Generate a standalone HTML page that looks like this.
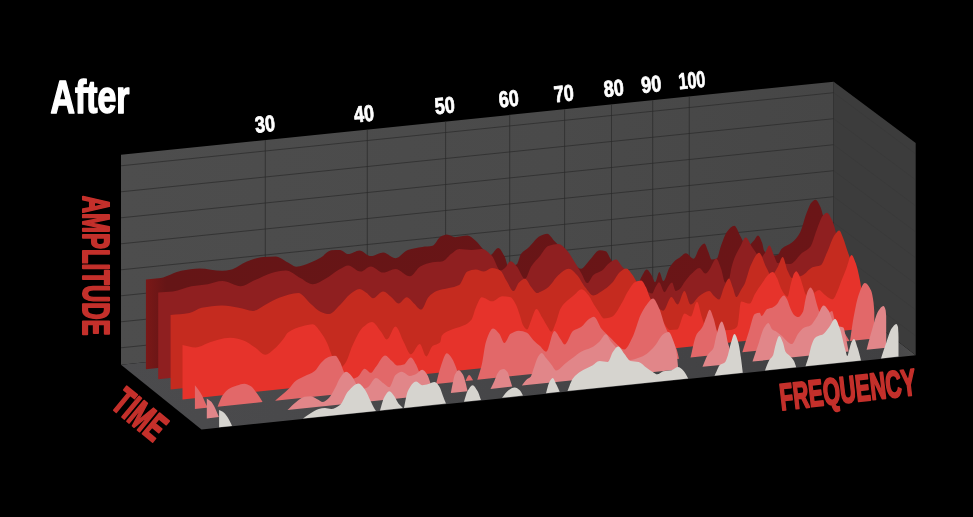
<!DOCTYPE html><html><head><meta charset="utf-8"><title>After</title><style>html,body{margin:0;padding:0;background:#000;overflow:hidden}svg{display:block}</style></head><body><svg width="973" height="517" viewBox="0 0 973 517"><defs><linearGradient id="g0" x1="0" x2="1" y1="0" y2="0"><stop offset="0" stop-color="#7a1817"/><stop offset="0.03" stop-color="#651516"/><stop offset="1" stop-color="#6b1517"/></linearGradient><linearGradient id="gw" gradientUnits="userSpaceOnUse" x1="121" y1="0" x2="834" y2="0"><stop offset="0" stop-color="#4d4d4d"/><stop offset="0.6" stop-color="#4a4a4a"/><stop offset="1" stop-color="#464646"/></linearGradient><linearGradient id="gf" gradientUnits="userSpaceOnUse" x1="121" y1="0" x2="915" y2="0"><stop offset="0" stop-color="#4b4b4d"/><stop offset="0.3" stop-color="#48484a"/><stop offset="0.972" stop-color="#404042"/><stop offset="0.98" stop-color="#49494a"/><stop offset="1" stop-color="#4d4d4d"/></linearGradient></defs><rect width="973" height="517" fill="#000"/><polygon points="121.0,154.8 833.7,81.7 833.7,291.6 121.0,364.7" fill="url(#gw)"/><polygon points="121.0,364.7 833.7,291.6 915.7,355.3 201.5,429.5" fill="url(#gf)"/><polygon points="833.7,81.7 915.7,142.9 915.7,355.3 833.7,291.6" fill="#3c3c3c"/><g stroke="#2a2a2a" stroke-width="0.7"><line x1="121.0" y1="165.8" x2="833.7" y2="92.7"/><line x1="121.0" y1="191.8" x2="833.7" y2="118.7"/><line x1="121.0" y1="217.8" x2="833.7" y2="144.7"/><line x1="121.0" y1="243.8" x2="833.7" y2="170.7"/><line x1="121.0" y1="269.8" x2="833.7" y2="196.7"/><line x1="121.0" y1="295.8" x2="833.7" y2="222.7"/><line x1="121.0" y1="321.8" x2="833.7" y2="248.7"/><line x1="121.0" y1="347.8" x2="833.7" y2="274.7"/><line x1="265.3" y1="140.0" x2="265.3" y2="349.9"/><line x1="367.3" y1="129.5" x2="367.3" y2="339.4"/><line x1="445.6" y1="121.5" x2="445.6" y2="331.4"/><line x1="509.7" y1="114.9" x2="509.7" y2="324.8"/><line x1="564.6" y1="109.3" x2="564.6" y2="319.2"/><line x1="611.5" y1="104.5" x2="611.5" y2="314.4"/><line x1="652.7" y1="100.3" x2="652.7" y2="310.2"/><line x1="689.3" y1="96.5" x2="689.3" y2="306.4"/></g><g stroke="#303030" stroke-width="1" opacity="0.2"><line x1="833.7" y1="92.7" x2="915.7" y2="153.9"/><line x1="833.7" y1="118.7" x2="915.7" y2="179.9"/><line x1="833.7" y1="144.7" x2="915.7" y2="205.9"/><line x1="833.7" y1="170.7" x2="915.7" y2="231.9"/><line x1="833.7" y1="196.7" x2="915.7" y2="257.9"/><line x1="833.7" y1="222.7" x2="915.7" y2="283.9"/><line x1="833.7" y1="248.7" x2="915.7" y2="309.9"/><line x1="833.7" y1="274.7" x2="915.7" y2="335.9"/></g><path d="M145.9 369.3L145.9 279.5C150.8 279.0 155.7 278.8 160.6 278.0C167.4 277.0 174.3 272.1 181.1 270.8C187.3 269.6 193.4 268.4 199.6 268.4C207.1 268.4 214.7 270.8 222.2 270.8C224.9 270.8 227.7 270.3 230.4 269.8C235.9 268.8 241.4 263.6 246.9 261.6C252.4 259.6 257.8 257.3 263.3 256.9C267.4 256.6 271.6 256.4 275.7 256.4C279.8 256.4 283.9 260.5 288.0 262.6C290.7 264.0 293.5 266.7 296.2 266.7C301.0 266.7 305.8 264.4 310.6 262.6C314.0 261.3 317.5 259.5 320.9 257.5C324.3 255.5 327.8 250.5 331.2 250.3C334.1 250.1 337.1 250.0 340.0 250.0C342.7 250.0 345.5 254.1 348.2 254.1C352.0 254.1 355.7 250.4 359.5 250.4C363.3 250.4 367.0 256.1 370.8 256.1C374.9 256.1 379.1 252.4 383.2 252.4C387.3 252.4 391.4 258.2 395.5 258.2C399.6 258.2 403.7 251.2 407.8 249.9C412.6 248.4 417.4 247.6 422.2 246.9C425.6 246.4 429.1 246.5 432.5 245.8C435.2 245.2 438.0 238.0 440.7 236.6C442.8 235.6 444.8 234.5 446.9 234.5C449.6 234.5 452.4 237.2 455.1 237.2C459.2 237.2 463.3 235.6 467.4 235.6C470.2 235.6 472.9 238.5 475.7 240.7C478.4 242.9 481.2 247.3 483.9 249.9C485.9 251.9 488.0 255.1 490.0 255.1C492.8 255.1 495.5 247.9 498.3 247.9C500.3 247.9 502.4 252.5 504.4 256.1C505.8 258.5 507.1 266.4 508.5 266.4C511.3 266.4 514.0 265.7 516.8 264.3C518.2 263.6 519.5 256.0 520.9 254.1C523.6 250.4 526.4 249.4 529.1 246.9C532.7 243.5 536.4 237.6 540.0 236.0C542.4 234.9 544.8 233.8 547.2 233.8C549.6 233.8 552.0 238.6 554.4 241.0C557.1 243.7 559.9 246.3 562.6 249.2C564.7 251.4 566.7 254.2 568.8 256.4C572.9 260.8 577.0 268.7 581.1 268.7C583.8 268.7 586.6 263.2 589.3 260.5C592.7 257.1 596.2 250.2 599.6 250.2C601.7 250.2 603.7 250.6 605.8 251.2C607.5 251.7 609.2 256.9 610.9 259.5C613.3 263.2 615.6 266.3 618.0 270.0C620.7 274.1 623.3 282.1 626.0 283.0C629.7 284.3 633.3 285.0 637.0 285.0C638.6 285.0 640.1 279.0 641.7 276.5C643.3 273.9 645.0 269.5 646.6 269.5C648.4 269.5 650.2 273.2 652.0 275.9C653.0 277.5 654.1 282.1 655.1 282.1C656.5 282.1 658.0 272.0 659.4 272.0C660.7 272.0 662.0 281.1 663.3 281.1C665.4 281.1 667.4 270.6 669.5 267.4C671.6 264.2 673.6 261.7 675.7 260.0C677.1 258.9 678.4 258.3 679.8 257.4C681.8 256.1 683.9 253.3 685.9 253.3C688.5 253.3 691.1 258.7 693.7 258.7C695.6 258.7 697.4 250.5 699.3 248.2C701.0 246.1 702.7 243.6 704.4 243.6C705.8 243.6 707.1 249.3 708.5 252.3C709.5 254.6 710.6 259.5 711.6 259.5C713.3 259.5 715.1 259.1 716.8 258.4C718.2 257.8 719.5 249.7 720.9 246.1C722.9 240.7 725.0 234.2 727.0 231.7C729.4 228.7 731.9 225.8 734.3 225.8C736.4 225.8 738.5 232.9 740.6 236.4C742.6 239.8 744.7 246.7 746.7 246.7C749.1 246.7 751.5 243.0 753.9 240.5C755.3 239.1 756.6 235.4 758.0 235.4C759.4 235.4 760.7 239.1 762.1 242.6C762.8 244.4 763.5 249.7 764.2 250.8C766.1 253.9 768.1 256.0 770.0 256.0C772.5 256.0 775.1 255.6 777.6 254.9C779.0 254.5 780.3 249.9 781.7 248.7C785.1 245.6 788.5 245.4 791.9 242.6C794.7 240.3 797.4 237.3 800.2 232.3C802.2 228.6 804.3 218.9 806.3 213.8C808.0 209.4 809.8 204.2 811.5 202.5C812.9 201.1 814.2 199.8 815.6 199.8C817.3 199.8 819.0 203.8 820.7 207.6C821.4 209.2 822.1 212.2 822.8 214.8C823.6 217.9 824.5 221.6 825.3 225.0L825.3 229.0L825.3 298.6Z" fill="url(#g0)"/><path d="M158.2 379.3L158.2 292.4C163.1 292.1 168.0 291.9 172.9 291.4C179.1 290.7 185.2 287.2 191.4 286.2C196.9 285.3 202.3 285.1 207.8 284.2C212.6 283.4 217.4 281.1 222.2 281.1C228.4 281.1 234.5 286.2 240.7 286.2C245.5 286.2 250.3 282.2 255.1 280.1C260.6 277.7 266.1 274.3 271.6 272.9C276.4 271.7 281.1 270.4 285.9 270.4C290.7 270.4 295.5 275.5 300.3 278.0C304.4 280.1 308.6 284.2 312.7 284.2C316.8 284.2 320.9 281.1 325.0 279.0C330.0 276.4 335.0 271.6 340.0 269.0C342.7 267.6 345.5 265.4 348.2 265.4C352.3 265.4 356.5 271.5 360.6 271.5C364.0 271.5 367.4 266.4 370.8 266.4C374.9 266.4 379.1 272.6 383.2 272.6C387.3 272.6 391.4 268.9 395.5 268.9C400.3 268.9 405.1 276.3 409.9 276.3C413.3 276.3 416.8 268.1 420.2 266.4C424.3 264.3 428.4 263.0 432.5 262.3C435.9 261.8 439.4 261.9 442.8 261.2C445.5 260.7 448.3 256.1 451.0 254.1C453.7 252.1 456.5 248.9 459.2 248.9C463.3 248.9 467.5 249.9 471.6 249.9C475.0 249.9 478.4 248.9 481.8 248.9C485.2 248.9 488.7 252.6 492.1 256.1C494.8 258.9 497.6 270.5 500.3 270.5C501.9 270.5 503.4 269.1 505.0 268.0C506.9 266.6 508.7 261.2 510.6 261.2C512.7 261.2 514.7 264.2 516.8 266.4C519.5 269.3 522.3 278.7 525.0 278.7C527.1 278.7 529.1 269.5 531.2 266.4C534.1 262.0 537.1 259.5 540.0 256.0C542.7 252.7 545.5 247.0 548.2 246.1C551.6 244.9 555.1 244.1 558.5 244.1C561.2 244.1 564.0 247.5 566.7 250.2C569.4 252.9 572.2 258.3 574.9 262.6C577.0 265.9 579.0 269.4 581.1 272.8C583.2 276.2 585.2 283.1 587.3 283.1C589.3 283.1 591.4 276.4 593.4 274.9C596.2 272.9 598.9 272.6 601.7 270.8C604.4 269.0 607.2 264.4 609.9 262.6C612.0 261.2 614.0 259.5 616.1 259.5C618.1 259.5 620.2 264.7 622.2 266.7C624.3 268.8 626.3 270.0 628.4 272.0C632.3 275.7 636.1 281.7 640.0 285.0C644.1 288.5 648.1 293.4 652.2 293.4C653.3 293.4 654.4 288.8 655.5 287.0C656.7 285.1 657.8 282.2 659.0 282.2C660.9 282.2 662.7 292.2 664.6 292.2C665.7 292.2 666.9 288.5 668.0 287.0C669.3 285.3 670.7 282.5 672.0 282.5C673.2 282.5 674.5 290.9 675.7 290.9C677.1 290.9 678.4 290.0 679.8 289.0C681.3 287.9 682.9 284.2 684.4 282.2C686.9 279.0 689.3 275.8 691.8 273.6C694.3 271.3 696.8 268.0 699.3 268.0C701.3 268.0 703.4 273.6 705.4 273.6C706.7 273.6 707.9 271.4 709.2 269.9C711.6 267.1 713.9 258.8 716.3 258.8C717.9 258.8 719.6 264.8 721.2 269.0C722.5 272.5 723.9 282.5 725.2 282.5C726.5 282.5 727.8 281.1 729.1 279.0C729.9 277.7 730.7 270.4 731.5 267.4C732.8 262.6 734.0 259.0 735.3 256.0C736.9 252.3 738.4 249.8 740.0 247.0C741.9 243.6 743.8 237.4 745.7 237.4C747.8 237.4 749.8 243.6 751.9 246.7C753.3 248.7 754.6 250.9 756.0 252.8C757.3 254.6 758.7 258.0 760.0 258.0C761.7 258.0 763.5 255.0 765.2 252.8C766.6 251.0 767.9 245.6 769.3 245.6C771.0 245.6 772.8 253.3 774.5 256.9C775.5 259.0 776.6 262.9 777.6 263.1C781.7 263.8 785.8 264.0 789.9 264.0C794.0 264.0 798.1 256.1 802.2 252.8C804.9 250.6 807.7 250.0 810.4 246.7C812.5 244.2 814.5 235.3 816.6 230.2C818.7 225.1 820.7 218.1 822.8 215.8C824.2 214.3 825.5 212.7 826.9 212.7C828.6 212.7 830.3 216.5 832.0 219.9C833.0 221.9 834.1 225.5 835.1 229.2C835.9 232.2 836.8 236.4 837.6 240.0L837.6 244.0L837.6 308.6Z" fill="#8f1f20"/><path d="M170.6 389.4L170.6 315.0C176.8 314.3 183.1 314.1 189.3 313.0C193.4 312.3 197.6 308.6 201.7 307.8C208.5 306.5 215.4 305.4 222.2 305.4C227.7 305.4 233.2 306.8 238.7 307.8C243.5 308.6 248.2 310.9 253.0 310.9C257.1 310.9 261.3 306.8 265.4 304.7C270.2 302.3 275.0 299.1 279.8 297.5C286.0 295.5 292.1 293.0 298.3 293.0C302.4 293.0 306.5 300.3 310.6 303.7C314.0 306.6 317.5 310.6 320.9 311.9C323.6 312.9 326.4 314.0 329.1 314.0C332.7 314.0 336.4 308.4 340.0 305.0C343.4 301.8 346.9 296.6 350.3 294.1C353.4 291.9 356.4 289.0 359.5 289.0C361.9 289.0 364.3 291.5 366.7 293.1C368.8 294.5 370.8 298.2 372.9 298.2C376.3 298.2 379.8 291.5 383.2 291.5C385.9 291.5 388.7 295.1 391.4 297.2C393.8 299.1 396.2 303.4 398.6 303.4C401.3 303.4 404.1 297.2 406.8 297.2C409.2 297.2 411.6 301.3 414.0 303.4C416.4 305.5 418.8 309.6 421.2 309.6C423.6 309.6 426.0 299.7 428.4 297.2C431.1 294.3 433.9 292.2 436.6 291.1C440.7 289.5 444.8 289.1 448.9 288.0C452.3 287.1 455.8 286.7 459.2 284.9C461.9 283.5 464.7 272.6 467.4 271.5C470.2 270.3 472.9 269.5 475.7 269.5C478.4 269.5 481.2 271.5 483.9 271.5C486.6 271.5 489.4 268.0 492.1 268.0C494.8 268.0 497.6 269.0 500.3 270.5C502.4 271.6 504.4 277.6 506.5 280.8C508.9 284.5 511.3 291.1 513.7 291.1C515.4 291.1 517.1 284.4 518.8 282.8C520.9 280.8 522.9 278.7 525.0 278.7C527.1 278.7 529.1 284.6 531.2 287.0C533.2 289.3 535.3 293.1 537.3 293.1C538.2 293.1 539.1 292.4 540.0 292.0C542.7 290.7 545.5 289.3 548.2 287.2C551.6 284.5 555.1 277.6 558.5 274.9C561.9 272.2 565.4 268.7 568.8 268.7C571.5 268.7 574.3 272.2 577.0 274.9C579.7 277.6 582.5 283.9 585.2 287.2C587.9 290.5 590.7 295.4 593.4 295.4C596.2 295.4 598.9 293.0 601.7 291.3C605.1 289.2 608.5 286.6 611.9 283.1C614.6 280.3 617.3 274.1 620.0 272.0C622.1 270.4 624.1 268.6 626.2 268.6C628.3 268.6 630.3 272.2 632.4 274.8C633.6 276.4 634.9 279.0 636.1 281.0C639.1 285.8 642.0 291.4 645.0 295.0C648.3 299.1 651.7 302.3 655.0 305.0C657.8 307.2 660.5 310.7 663.3 310.7C666.0 310.7 668.7 297.1 671.4 297.1C673.5 297.1 675.5 304.5 677.6 304.5C679.9 304.5 682.1 290.9 684.4 290.9C686.5 290.9 688.5 304.5 690.6 304.5C693.5 304.5 696.4 297.9 699.3 295.9C702.6 293.7 705.9 290.9 709.2 290.9C710.8 290.9 712.5 294.5 714.1 295.9C715.8 297.3 717.4 299.6 719.1 299.6C720.7 299.6 722.4 290.6 724.0 287.2C725.7 283.8 727.3 278.5 729.0 278.5C730.2 278.5 731.5 284.1 732.7 287.2C733.9 290.3 735.2 297.1 736.4 297.1C737.9 297.1 739.5 292.5 741.0 290.0C742.2 288.0 743.5 286.3 744.7 283.7C746.7 279.4 748.8 269.3 750.8 265.2C753.6 259.6 756.3 252.8 759.1 252.8C761.5 252.8 763.8 263.0 766.2 267.2C767.9 270.3 769.7 275.4 771.4 275.4C773.5 275.4 775.5 270.5 777.6 267.2C779.3 264.5 781.0 256.9 782.7 256.9C784.4 256.9 786.1 267.9 787.8 271.3C789.2 274.1 790.6 278.0 792.0 278.0C795.4 278.0 798.8 276.7 802.2 275.4C805.6 274.1 809.1 268.5 812.5 267.2C815.2 266.2 818.0 266.4 820.7 265.2C822.8 264.3 824.8 257.2 826.9 252.8C829.6 247.0 832.4 237.7 835.1 234.3C836.5 232.6 837.8 230.6 839.2 230.6C840.6 230.6 841.9 235.2 843.3 238.4C844.7 241.6 846.0 246.9 847.4 250.8C848.3 253.3 849.1 255.6 850.0 258.0L850.0 262.0L850.0 318.7Z" fill="#c52b1f"/><path d="M182.5 399.4L182.5 345.0C186.8 345.8 191.2 347.5 195.5 347.5C200.3 347.5 205.1 343.9 209.9 342.3C212.6 341.4 215.4 340.3 218.1 339.7C222.2 338.8 226.3 337.8 230.4 337.8C234.5 337.8 238.7 339.1 242.8 340.3C246.9 341.5 251.0 344.9 255.1 347.5C258.5 349.7 262.0 354.7 265.4 354.7C268.1 354.7 270.9 351.7 273.6 349.5C277.0 346.8 280.5 342.5 283.9 338.2C285.3 336.5 286.6 333.5 288.0 332.5C292.8 329.0 297.6 327.6 302.4 326.3C305.8 325.4 309.3 324.3 312.7 324.3C315.4 324.3 318.2 329.0 320.9 332.5C322.9 335.1 325.0 338.7 327.0 342.8C329.0 346.9 331.0 354.3 333.0 358.0C335.3 362.3 337.7 368.0 340.0 368.0C342.0 368.0 344.0 364.9 346.0 362.0C348.1 359.0 350.2 350.6 352.3 346.1C355.7 338.8 359.2 330.7 362.6 327.6C365.7 324.8 368.8 321.9 371.9 321.9C375.0 321.9 378.0 328.0 381.1 331.7C383.0 334.0 385.0 339.5 386.9 339.5C389.8 339.5 392.6 326.6 395.5 326.6C398.2 326.6 401.0 337.1 403.7 342.0C406.1 346.3 408.5 354.3 410.9 354.3C413.9 354.3 416.8 344.1 419.8 344.1C422.0 344.1 424.1 356.4 426.3 356.4C428.4 356.4 430.4 347.8 432.5 346.1C435.1 344.0 437.7 345.0 440.3 342.0C440.8 341.5 441.2 336.5 441.7 335.8C444.1 332.3 446.5 331.9 448.9 330.7C453.7 328.3 458.5 328.0 463.3 325.6C466.1 324.2 468.8 322.9 471.6 319.4C473.0 317.7 474.3 311.0 475.7 308.0C477.7 303.5 479.8 297.2 481.8 297.2C485.2 297.2 488.7 301.3 492.1 301.3C495.5 301.3 499.0 296.2 502.4 296.2C505.1 296.2 507.9 296.5 510.6 297.2C512.4 297.6 514.2 301.4 516.0 304.8C517.2 307.1 518.5 311.2 519.7 314.7C520.9 318.2 522.2 324.0 523.4 325.8C524.6 327.7 525.9 329.5 527.1 329.5C528.4 329.5 529.6 323.7 530.9 320.9C532.7 316.9 534.6 309.1 536.4 309.1C538.3 309.1 540.1 314.3 542.0 317.2C543.7 319.8 545.3 323.2 547.0 325.8C548.4 328.0 549.9 331.8 551.3 331.8C552.7 331.8 554.2 326.7 555.6 323.3C557.3 319.4 558.9 311.4 560.6 308.5C562.7 304.9 564.7 303.1 566.8 301.1C569.3 298.7 571.7 296.9 574.2 294.9C576.7 292.9 579.1 289.3 581.6 289.3C584.1 289.3 586.6 293.0 589.1 296.1C590.7 298.1 592.4 302.2 594.0 304.8C595.7 307.5 597.3 309.9 599.0 312.2C600.6 314.4 602.3 318.4 603.9 318.4C606.6 318.4 609.2 317.7 611.9 316.7C615.3 315.5 618.8 308.0 622.2 302.3C623.9 299.4 625.7 295.0 627.4 292.2C629.9 288.2 632.4 283.4 634.9 282.2C637.0 281.2 639.0 280.4 641.1 280.4C642.7 280.4 644.4 284.2 646.0 287.2C647.2 289.5 648.5 294.2 649.7 297.1C651.8 302.0 653.9 306.2 656.0 310.0C658.4 314.4 660.9 318.6 663.3 322.0C665.5 325.1 667.8 330.0 670.0 330.0C672.4 330.0 674.8 329.8 677.2 329.5C679.7 329.2 682.1 313.4 684.6 313.4C686.7 313.4 688.7 316.5 690.8 316.5C692.9 316.5 694.9 301.7 697.0 301.7C698.6 301.7 700.3 312.2 701.9 317.2C702.7 319.7 703.6 322.6 704.4 324.6C704.9 325.9 705.5 327.6 706.0 328.0C708.0 329.6 710.0 330.5 712.0 330.5C714.7 330.5 717.3 330.5 720.0 330.5C723.3 330.5 726.7 330.3 730.0 330.0C731.3 329.9 732.7 329.5 734.0 329.0C735.1 328.5 736.3 327.7 737.4 325.9C738.6 323.9 739.9 301.6 741.1 301.6C742.8 301.6 744.4 302.6 746.1 302.9C747.3 303.1 748.6 303.5 749.8 303.5C751.5 303.5 753.1 297.0 754.8 294.2C757.3 290.1 759.7 286.7 762.2 283.1C764.3 280.1 766.3 276.1 768.4 274.4C769.8 273.3 771.3 271.9 772.7 271.9C774.2 271.9 775.6 275.4 777.1 278.1C778.3 280.4 779.6 285.5 780.8 288.0C782.0 290.5 783.3 292.9 784.5 294.2C785.5 295.3 786.6 296.7 787.6 296.7C788.6 296.7 789.7 287.9 790.7 284.3C791.9 280.0 793.2 274.8 794.4 273.1C795.0 272.2 795.7 271.3 796.3 271.3C797.3 271.3 798.3 273.7 799.3 275.6C800.6 278.0 801.8 283.0 803.1 286.8C803.9 289.2 804.7 293.1 805.5 294.2C807.0 296.3 808.5 298.0 810.0 298.0C811.8 298.0 813.7 292.9 815.5 291.7C816.7 290.9 818.0 289.9 819.2 289.9C820.8 289.9 822.5 292.9 824.1 294.2C825.8 295.5 827.4 297.1 829.1 297.9C830.3 298.5 831.6 299.2 832.8 299.2C834.4 299.2 836.1 294.0 837.7 290.5C839.0 287.8 840.2 283.9 841.5 280.6C843.1 276.4 844.8 272.4 846.4 268.2C848.1 263.8 849.8 254.9 851.5 254.9C852.9 254.9 854.3 259.4 855.7 263.1C857.1 266.7 858.4 272.9 859.8 279.6C860.5 283.0 861.2 287.9 861.9 292.0L861.9 296.0L861.9 328.7Z" fill="#e6332b"/><path d="M194.9 409.1L194.9 385.3C196.1 386.8 197.4 388.2 198.6 389.9C199.8 391.6 201.1 393.7 202.3 396.0C203.3 398.0 204.4 400.9 205.4 402.9C206.0 404.1 206.7 405.6 207.3 406.3C207.9 406.9 208.4 407.2 209.0 407.6ZM217.6 406.7C219.1 403.2 220.7 398.5 222.2 396.1C224.2 393.0 226.3 390.5 228.3 389.2C231.2 387.4 234.1 386.4 237.0 385.5C239.5 384.7 241.9 383.7 244.4 383.7C246.5 383.7 248.5 384.9 250.6 386.1C252.5 387.2 254.3 389.9 256.2 392.3C257.6 394.1 259.1 396.2 260.5 398.5C261.2 399.6 261.9 400.9 262.6 402.1ZM275.0 400.8C279.3 397.0 283.7 393.9 288.0 389.6C290.7 386.9 293.5 382.3 296.2 380.4C298.9 378.5 301.7 377.6 304.4 376.2C307.8 374.5 311.3 373.7 314.7 371.1C316.8 369.6 318.8 364.9 320.9 362.9C323.6 360.2 326.4 357.4 329.1 356.7C331.2 356.2 333.2 355.7 335.3 355.7C336.9 355.7 338.4 359.3 340.0 362.0C341.7 364.9 343.4 371.7 345.1 373.9C347.1 376.4 349.0 379.0 351.0 379.0C353.2 379.0 355.3 378.0 357.5 377.0C359.9 375.8 362.3 368.7 364.7 368.7C366.7 368.7 368.8 372.8 370.8 372.8C372.5 372.8 374.3 368.8 376.0 366.7C379.1 363.0 382.1 355.4 385.2 355.4C387.3 355.4 389.3 358.8 391.4 360.5C393.5 362.2 395.5 365.6 397.6 365.6C399.6 365.6 401.7 365.2 403.7 364.6C406.1 363.9 408.5 357.4 410.9 357.4C412.6 357.4 414.4 361.5 416.1 364.6C417.1 366.4 418.1 370.0 419.1 371.8C421.1 375.4 423.0 377.9 425.0 380.0C426.8 381.9 428.6 383.1 430.4 384.6ZM436.0 384.0C437.6 378.3 439.1 371.0 440.7 366.7C442.8 361.0 444.8 353.3 446.9 353.3C448.6 353.3 450.3 356.0 452.0 358.4C453.7 360.8 455.5 365.6 457.2 370.8C458.1 373.6 459.1 378.0 460.0 381.5ZM465.4 381.0C466.6 378.9 467.9 374.9 469.1 374.9C470.5 374.9 471.8 378.4 473.2 380.2ZM477.3 379.7C478.8 374.7 480.3 370.9 481.8 364.6C483.2 358.9 484.5 346.0 485.9 342.0C488.3 335.0 490.7 328.6 493.1 328.6C495.2 328.6 497.2 331.4 499.3 333.8C501.0 335.8 502.7 343.0 504.4 343.0C506.5 343.0 508.5 335.1 510.6 333.8C513.3 332.1 516.1 330.7 518.8 330.7C521.5 330.7 524.3 331.6 527.0 332.7C529.1 333.6 531.1 337.8 533.2 339.9C535.5 342.2 537.7 343.9 540.0 346.0C542.1 347.9 544.1 351.7 546.2 351.7C548.9 351.7 551.7 331.1 554.4 331.1C556.5 331.1 558.5 336.6 560.6 339.3C562.0 341.1 563.3 344.5 564.7 344.5C567.4 344.5 570.2 333.2 572.9 331.1C575.6 329.0 578.4 328.8 581.1 327.0C583.8 325.2 586.6 320.5 589.3 318.8C590.8 317.9 592.4 316.7 593.9 316.7C596.5 316.7 599.1 325.9 601.7 329.1C604.4 332.5 607.2 334.6 609.9 337.3C612.6 340.0 615.4 343.3 618.1 345.5C620.2 347.1 622.2 349.6 624.3 349.6C627.0 349.6 629.8 342.6 632.5 337.3C635.2 332.0 638.0 320.3 640.7 314.7C642.8 310.5 644.8 306.9 646.9 304.4C648.9 301.9 651.0 298.5 653.0 298.5C655.1 298.5 657.1 304.2 659.2 308.5C661.3 312.8 663.3 322.1 665.4 327.0C667.5 331.9 669.5 335.2 671.6 339.3C673.3 342.7 675.0 344.8 676.7 349.6C677.5 351.7 678.2 355.7 679.0 358.8ZM690.5 357.6C692.4 350.1 694.3 339.0 696.2 335.2C698.3 331.1 700.3 330.7 702.4 327.0C703.8 324.6 705.1 319.9 706.5 316.7C707.5 314.2 708.6 309.7 709.6 309.7C711.0 309.7 712.3 314.9 713.7 318.8C714.7 321.8 715.8 327.7 716.8 331.1C717.9 334.6 718.9 337.7 720.0 340.0C722.0 344.3 724.0 348.6 726.0 350.0C728.3 351.7 730.7 352.1 733.0 353.1ZM742.3 352.2C744.5 345.3 746.6 338.3 748.8 331.7C750.8 325.6 752.8 314.9 754.8 314.0C756.4 313.3 758.1 312.8 759.7 312.8C760.3 312.8 760.9 316.0 761.5 316.0C763.4 316.0 765.3 309.9 767.2 309.1C768.8 308.4 770.5 308.4 772.1 307.8C773.8 307.2 775.4 305.8 777.1 304.1C778.3 302.8 779.6 299.2 780.8 297.9C781.8 296.8 782.9 295.4 783.9 295.4C784.9 295.4 786.0 297.5 787.0 299.2C788.2 301.3 789.5 306.6 790.7 309.1C791.9 311.6 793.2 314.4 794.4 315.3C795.6 316.2 796.9 317.1 798.1 317.1C799.8 317.1 801.4 314.8 803.1 311.5C803.9 309.9 804.7 302.5 805.5 299.2C806.3 295.7 807.2 292.0 808.0 290.5C808.8 289.0 809.7 287.4 810.5 287.4C811.3 287.4 812.2 289.0 813.0 290.5C813.8 292.0 814.7 296.3 815.5 299.2C816.3 302.0 817.1 305.3 817.9 307.8C818.3 309.2 818.8 310.8 819.2 311.5C820.0 312.8 820.9 313.5 821.7 314.0C823.1 314.9 824.6 316.0 826.0 316.0C828.0 316.0 830.0 311.1 832.0 311.1C833.0 311.1 834.1 318.8 835.1 321.4C836.5 324.9 837.8 328.5 839.2 329.6C840.6 330.7 841.9 330.7 843.3 331.7C844.5 332.6 845.8 335.1 847.0 337.0C847.8 338.3 848.7 339.7 849.5 341.0ZM850.0 341.0C851.2 333.1 852.4 323.7 853.6 317.3C855.3 308.2 857.0 299.3 858.7 294.7C860.8 289.1 862.8 282.9 864.9 282.9C867.0 282.9 869.0 286.1 871.1 290.6C871.9 292.4 872.8 296.5 873.6 303.0C873.8 304.8 874.1 309.0 874.3 312.0L874.3 316.0L874.3 338.4Z" fill="#e26869"/><path d="M206.8 418.4L206.8 398.5C208.2 399.5 209.6 400.2 211.0 401.6C212.2 402.8 213.5 404.9 214.7 407.2C215.6 408.9 216.5 411.2 217.4 413.4C217.9 414.6 218.4 415.9 218.9 417.1ZM287.5 410.0C290.4 407.3 293.3 404.1 296.2 401.9C298.9 399.9 301.7 397.2 304.4 396.8C306.5 396.5 308.5 396.2 310.6 396.2C312.7 396.2 314.7 397.9 316.8 398.9C318.8 399.8 320.9 401.9 322.9 401.9C325.0 401.9 327.0 399.7 329.1 397.8C331.2 395.9 333.2 391.4 335.3 387.6C336.9 384.7 338.4 380.1 340.0 378.0C342.1 375.2 344.1 371.8 346.2 371.8C348.2 371.8 350.3 374.6 352.3 376.9C353.9 378.7 355.4 383.3 357.0 385.0C358.7 386.8 360.3 389.0 362.0 389.0C363.9 389.0 365.8 388.1 367.7 387.2C370.5 385.9 373.2 378.0 376.0 378.0C378.4 378.0 380.8 381.4 383.2 383.1C385.2 384.5 387.3 387.2 389.3 387.2C391.4 387.2 393.4 376.6 395.5 374.9C397.6 373.2 399.6 371.8 401.7 371.8C404.4 371.8 407.2 375.9 409.9 375.9C412.0 375.9 414.0 374.8 416.1 373.9C418.1 373.0 420.2 369.7 422.2 369.7C423.9 369.7 425.7 372.3 427.4 374.9C428.4 376.4 429.4 380.1 430.4 383.1C431.6 386.7 432.8 390.9 434.0 394.8ZM450.8 393.0C451.5 389.3 452.3 385.2 453.0 382.0C453.6 379.2 454.3 375.8 454.9 374.6C456.1 372.2 457.4 370.2 458.6 370.2C460.0 370.2 461.5 372.3 462.9 374.6C463.7 375.9 464.6 379.1 465.4 382.0C466.1 384.6 466.9 388.2 467.6 391.3ZM490.5 388.9C491.8 386.2 493.2 383.7 494.5 380.8C495.5 378.5 496.6 374.9 497.6 373.3C498.6 371.7 499.7 370.1 500.7 369.7C501.7 369.3 502.8 369.0 503.8 369.0C505.0 369.0 506.3 370.4 507.5 372.1C508.3 373.2 509.2 376.9 510.0 379.5C510.7 381.8 511.5 384.3 512.2 386.6ZM521.8 385.6C523.4 383.6 525.1 380.9 526.7 379.5C527.9 378.5 529.2 378.4 530.4 377.1C531.6 375.8 532.9 370.5 534.1 367.2C535.3 363.9 536.6 359.2 537.8 357.2C539.0 355.2 540.3 352.9 541.5 352.9C543.2 352.9 544.8 356.5 546.5 358.5C548.2 360.5 549.8 362.7 551.5 364.7C553.1 366.7 554.8 370.5 556.4 370.5C559.2 370.5 561.9 366.1 564.7 364.0C567.4 361.9 570.2 359.8 572.9 357.8C575.6 355.8 578.4 353.1 581.1 351.7C584.5 349.9 588.0 349.4 591.4 347.6C594.1 346.2 596.9 343.9 599.6 341.4C601.7 339.5 603.7 334.2 605.8 334.2C607.5 334.2 609.2 339.2 610.9 341.4C612.6 343.6 614.4 345.4 616.1 347.6C618.1 350.1 620.0 354.5 622.0 356.0C624.7 358.0 627.3 360.0 630.0 360.0C632.9 360.0 635.8 358.8 638.7 357.8C641.4 356.9 644.2 355.5 646.9 353.7C649.6 351.9 652.4 348.7 655.1 345.5C657.8 342.3 660.6 335.8 663.3 334.2C665.0 333.2 666.8 332.1 668.5 332.1C670.2 332.1 671.9 337.0 673.6 341.4C674.6 344.1 675.7 347.6 676.7 353.7C677.2 356.9 677.8 364.1 678.3 369.4ZM702.5 366.8C704.1 363.0 705.8 357.9 707.4 355.2C709.5 351.8 711.5 352.0 713.6 347.7C714.4 346.0 715.3 339.5 716.1 336.6C718.0 330.1 719.8 321.5 721.7 321.5C722.9 321.5 724.2 326.3 725.4 330.4C726.2 333.2 727.1 339.6 727.9 342.8C729.3 348.0 730.6 351.6 732.0 355.0C733.3 358.3 734.7 360.6 736.0 363.4ZM752.5 361.6C754.7 355.1 756.9 348.3 759.1 341.9C760.8 337.0 762.5 330.1 764.2 327.5C765.6 325.4 766.9 323.0 768.3 323.0C769.7 323.0 771.0 328.5 772.4 329.6C773.8 330.7 775.1 330.9 776.5 331.7C778.2 332.8 780.0 334.3 781.7 335.8C783.7 337.6 785.8 340.6 787.8 341.9C789.2 342.8 790.5 344.0 791.9 344.0C794.0 344.0 796.0 336.3 798.1 333.7C800.2 331.1 802.2 328.5 804.3 327.5C806.3 326.5 808.4 326.6 810.4 325.5C812.5 324.4 814.5 320.3 816.6 317.3C819.0 313.8 821.4 305.4 823.8 305.4C825.5 305.4 827.2 308.5 828.9 311.1C830.3 313.3 831.7 319.5 833.1 321.4C834.7 323.6 836.4 325.3 838.0 326.0C839.8 326.8 841.5 326.5 843.3 327.5C844.3 328.1 845.4 335.2 846.4 339.9C847.2 343.4 847.9 347.7 848.7 351.6ZM866.6 349.8C868.4 343.1 870.3 335.6 872.1 329.6C874.2 322.8 876.2 314.1 878.3 311.1C880.0 308.6 881.7 306.0 883.4 306.0C884.1 306.0 884.9 307.4 885.6 310.0C885.8 310.7 886.0 314.0 886.2 316.0L886.2 320.0L886.2 347.7Z" fill="#e18689"/><path d="M219.1 427.2L219.1 409.9C220.5 410.7 222.0 411.1 223.4 412.2C224.6 413.1 225.9 414.7 227.1 416.5C228.1 418.0 229.2 420.1 230.2 422.1C230.8 423.3 231.4 424.6 232.0 425.9ZM303.0 418.5C305.5 416.7 308.1 414.8 310.6 413.3C313.3 411.7 316.1 409.8 318.8 409.1C320.9 408.6 322.9 408.1 325.0 408.1C327.1 408.1 329.1 409.1 331.2 409.1C334.1 409.1 337.1 407.2 340.0 405.0C342.7 403.0 345.5 394.2 348.2 391.3C351.6 387.7 355.1 383.5 358.5 383.5C360.6 383.5 362.6 386.7 364.7 389.3C366.7 391.9 368.8 397.5 370.8 401.6C371.8 403.7 372.9 406.1 373.9 407.8C374.6 409.0 375.3 409.9 376.0 410.9ZM380.0 410.5C381.4 406.1 382.8 400.0 384.2 397.5C385.9 394.5 387.6 391.3 389.3 391.3C391.0 391.3 392.8 394.3 394.5 396.5C395.9 398.3 397.2 402.0 398.6 403.7C399.6 405.0 400.7 405.6 401.7 406.7C402.1 407.1 402.6 407.6 403.0 408.1ZM404.0 408.0C405.3 402.4 406.5 393.8 407.8 391.3C410.6 385.8 413.3 381.5 416.1 381.5C418.1 381.5 420.2 385.2 422.2 385.2C424.3 385.2 426.3 384.6 428.4 384.1C430.5 383.6 432.5 382.1 434.6 382.1C436.3 382.1 438.0 384.6 439.7 387.2C440.7 388.8 441.8 392.7 442.8 395.4C443.9 398.2 444.9 400.9 446.0 403.6ZM464.0 401.7C465.1 398.3 466.3 393.3 467.4 391.3C469.1 388.3 470.9 385.2 472.6 385.2C474.3 385.2 476.0 388.4 477.7 391.3C478.8 393.2 479.9 397.1 481.0 400.0ZM502.0 397.8C504.2 395.3 506.3 391.7 508.5 390.3C510.6 389.0 512.6 387.6 514.7 387.6C516.4 387.6 518.1 388.9 519.8 390.3C520.9 391.2 521.9 393.8 523.0 395.6ZM546.0 393.2C547.1 389.6 548.1 384.5 549.2 382.5C550.4 380.3 551.5 378.0 552.7 378.0C553.9 378.0 555.2 382.2 556.4 384.6C557.5 386.8 558.6 389.4 559.7 391.8ZM567.5 391.0C569.3 386.8 571.1 380.8 572.9 378.4C575.6 374.8 578.4 372.9 581.1 371.2C584.5 369.0 588.0 368.0 591.4 366.1C594.1 364.6 596.9 360.9 599.6 360.9C602.3 360.9 605.1 361.9 607.8 361.9C609.5 361.9 611.3 354.0 613.0 351.7C614.7 349.4 616.4 346.5 618.1 346.5C620.2 346.5 622.2 351.3 624.3 353.7C626.3 356.1 628.4 360.4 630.4 360.9C633.2 361.5 635.9 361.3 638.7 361.9C641.4 362.5 644.2 366.2 646.9 368.1C649.0 369.6 651.0 371.0 653.1 372.2C654.5 373.0 655.8 374.3 657.2 374.3C659.2 374.3 661.3 371.6 663.3 371.2C666.1 370.6 668.8 370.8 671.6 370.2C673.6 369.8 675.7 367.1 677.7 367.1C679.8 367.1 681.8 369.2 683.9 371.2C685.3 372.6 686.8 376.0 688.2 378.4ZM714.5 375.7C715.2 374.3 715.8 372.8 716.5 371.5C717.6 369.3 718.7 366.0 719.8 365.1C721.5 363.7 723.1 364.1 724.8 362.6C725.8 361.7 726.9 358.3 727.9 355.2C728.9 352.1 730.0 346.0 731.0 342.8C732.2 339.2 733.3 334.0 734.5 334.0C735.8 334.0 737.1 338.6 738.4 343.0C739.2 345.8 740.1 351.9 740.9 357.6C741.5 361.9 742.2 367.7 742.8 372.7ZM765.0 370.4C766.4 367.0 767.9 362.5 769.3 360.1C770.6 358.0 771.8 357.8 773.1 355.2C773.9 353.6 774.7 347.7 775.5 345.2C776.8 341.2 778.0 336.0 779.3 336.0C780.5 336.0 781.8 339.7 783.0 342.8C783.8 344.8 784.6 350.1 785.4 351.4C787.1 354.2 788.7 354.5 790.4 356.4C791.6 357.8 792.9 359.0 794.1 361.3C794.8 362.6 795.5 365.2 796.2 367.2ZM805.5 366.2C806.7 362.5 807.8 359.3 809.0 355.2C809.8 352.2 810.7 347.5 811.5 345.2C812.7 341.8 814.0 338.8 815.2 337.8C816.8 336.4 818.4 335.9 820.0 335.3C820.9 335.0 821.9 334.9 822.8 334.5C824.8 333.6 826.9 330.1 828.9 327.6C831.0 325.0 833.0 318.9 835.1 318.9C836.8 318.9 838.5 324.8 840.2 329.6C841.2 332.5 842.3 337.8 843.3 341.9C844.0 344.8 844.8 348.0 845.5 350.5C846.1 352.5 846.7 356.0 847.3 356.0C848.0 356.0 848.6 351.7 849.3 349.5C850.0 347.1 850.8 343.3 851.5 342.0C852.3 340.5 853.2 338.9 854.0 338.9C855.2 338.9 856.5 344.4 857.7 348.1C858.8 351.4 859.9 356.3 861.0 360.4ZM881.0 358.4C882.8 352.9 884.7 347.0 886.5 341.9C888.2 337.2 889.9 331.0 891.6 328.6C893.2 326.3 894.7 323.9 896.3 323.9C896.9 323.9 897.4 324.8 898.0 327.0C898.1 327.5 898.3 331.0 898.4 333.0L898.5 337.0L898.5 356.5Z" fill="#d6d4cf"/><g font-family="Liberation Sans, Arial, sans-serif" font-weight="bold"><text transform="translate(50.6 112.9) rotate(0.0) scale(0.735 1)" font-size="46.0" fill="#fff" stroke="#fff" stroke-width="1.61" stroke-linejoin="round" text-anchor="start">After</text><text transform="translate(265.8 131.7) rotate(-5.7) scale(0.790 1)" font-size="22.8" fill="#fff" stroke="#fff" stroke-width="0.80" stroke-linejoin="round" text-anchor="middle">30</text><text transform="translate(364.8 121.4) rotate(-5.7) scale(0.790 1)" font-size="22.8" fill="#fff" stroke="#fff" stroke-width="0.80" stroke-linejoin="round" text-anchor="middle">40</text><text transform="translate(445.4 113.3) rotate(-5.7) scale(0.790 1)" font-size="22.8" fill="#fff" stroke="#fff" stroke-width="0.80" stroke-linejoin="round" text-anchor="middle">50</text><text transform="translate(509.5 106.6) rotate(-5.7) scale(0.790 1)" font-size="22.8" fill="#fff" stroke="#fff" stroke-width="0.80" stroke-linejoin="round" text-anchor="middle">60</text><text transform="translate(564.6 101.2) rotate(-5.7) scale(0.790 1)" font-size="22.8" fill="#fff" stroke="#fff" stroke-width="0.80" stroke-linejoin="round" text-anchor="middle">70</text><text transform="translate(614.5 95.9) rotate(-5.7) scale(0.790 1)" font-size="22.8" fill="#fff" stroke="#fff" stroke-width="0.80" stroke-linejoin="round" text-anchor="middle">80</text><text transform="translate(652.0 92.0) rotate(-5.7) scale(0.790 1)" font-size="22.8" fill="#fff" stroke="#fff" stroke-width="0.80" stroke-linejoin="round" text-anchor="middle">90</text><text transform="translate(692.6 88.0) rotate(-5.7) scale(0.710 1)" font-size="22.8" fill="#fff" stroke="#fff" stroke-width="0.80" stroke-linejoin="round" text-anchor="middle">100</text><text transform="translate(83.3 195.8) rotate(90.0) scale(0.644 1)" font-size="37.2" fill="#c4302b" stroke="#c4302b" stroke-width="2.05" stroke-linejoin="round" text-anchor="start">AMPLITUDE</text><text transform="translate(109.4 406.5) rotate(39.4) scale(0.622 1)" font-size="38.4" fill="#c4302b" stroke="#c4302b" stroke-width="2.11" stroke-linejoin="round" text-anchor="start">TIME</text><text transform="translate(781.2 410.2) rotate(-6.6) scale(0.583 1)" font-size="37.4" fill="#c4302b" stroke="#c4302b" stroke-width="2.06" stroke-linejoin="round" text-anchor="start">FREQUENCY</text></g></svg></body></html>
